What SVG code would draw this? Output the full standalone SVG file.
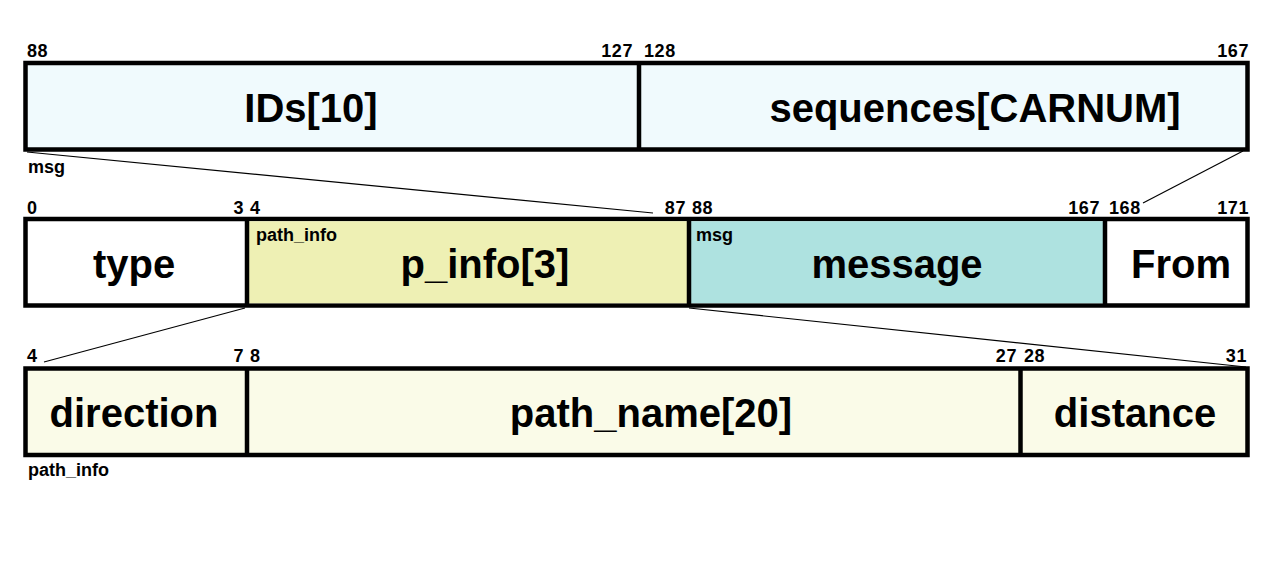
<svg xmlns="http://www.w3.org/2000/svg" width="1280" height="567" viewBox="0 0 1280 567">
<style>
.box{stroke:#000;stroke-width:4.5}
.div{stroke:#000;stroke-width:4.5}
.big{font-family:"Liberation Sans",Arial,sans-serif;font-weight:bold;font-size:40px;fill:#000;text-anchor:middle}
.num{font-family:"Liberation Sans",Arial,sans-serif;font-weight:bold;font-size:18px;letter-spacing:0.6px;fill:#000}
.end{text-anchor:end}
.lbl{font-family:"Liberation Sans",Arial,sans-serif;font-weight:bold;font-size:18px;fill:#000}
.conn{stroke:#000;stroke-width:1.2;fill:none}
</style>
<rect width="1280" height="567" fill="#fff"/>
<g id="connectors">
<line class="conn" x1="27" y1="152" x2="653" y2="213"/>
<line class="conn" x1="1243" y1="151" x2="1143" y2="203"/>
<line class="conn" x1="245" y1="308" x2="44" y2="362"/>
<line class="conn" x1="689" y1="308" x2="1246" y2="367"/>
</g>
<g id="msg_struct">
<rect class="box" x="25.5" y="63" width="1222" height="86.5" fill="#F0FAFD"/>
<g id="ids">
<text class="big" x="311" y="122">IDs[10]</text>
</g>
<line class="div" x1="639" y1="63" x2="639" y2="149.5"/>
<g id="sequences">
<text class="big" x="975" y="122">sequences[CARNUM]</text>
</g>
<text class="num" x="27" y="57">88</text>
<text class="num end" x="633" y="57">127</text>
<text class="num" x="644" y="57">128</text>
<text class="num end" x="1249" y="57">167</text>
<text class="lbl" x="28" y="173">msg</text>
</g>
<g id="main_struct">
<rect class="box" x="25.5" y="219" width="1222" height="86.5" fill="#fff"/>
<rect x="247" y="221.25" width="442" height="82" fill="#EEF0B4"/>
<rect x="689" y="221.25" width="416" height="82" fill="#AEE2E0"/>
<line class="div" x1="247" y1="219" x2="247" y2="305.5"/>
<line class="div" x1="689" y1="219" x2="689" y2="305.5"/>
<line class="div" x1="1105" y1="219" x2="1105" y2="305.5"/>
<g id="type"><text class="big" x="134" y="278">type</text></g>
<g id="p_info"><text class="big" x="485" y="278">p_info[3]</text>
<text class="lbl" x="256" y="241">path_info</text></g>
<g id="message"><text class="big" x="897" y="278">message</text>
<text class="lbl" x="696" y="241">msg</text></g>
<g id="from"><text class="big" x="1181" y="278">From</text></g>
<text class="num" x="27" y="214">0</text>
<text class="num end" x="244" y="214">3</text>
<text class="num" x="250" y="214">4</text>
<text class="num end" x="686" y="214">87</text>
<text class="num" x="692" y="214">88</text>
<text class="num end" x="1100" y="214">167</text>
<text class="num" x="1109" y="214">168</text>
<text class="num end" x="1249" y="214">171</text>
</g>
<g id="path_info_struct">
<rect class="box" x="25.5" y="368.5" width="1222" height="86.5" fill="#FAFBE8"/>
<line class="div" x1="247" y1="368.5" x2="247" y2="455"/>
<line class="div" x1="1020.5" y1="368.5" x2="1020.5" y2="455"/>
<g id="direction"><text class="big" x="134" y="427">direction</text></g>
<g id="path_name"><text class="big" x="651" y="427">path_name[20]</text></g>
<g id="distance"><text class="big" x="1135" y="427">distance</text></g>
<text class="num" x="27" y="362">4</text>
<text class="num end" x="244" y="362">7</text>
<text class="num" x="250" y="362">8</text>
<text class="num end" x="1017" y="362">27</text>
<text class="num" x="1024" y="362">28</text>
<text class="num end" x="1247" y="362">31</text>
<text class="lbl" x="28" y="476">path_info</text>
</g>
</svg>
